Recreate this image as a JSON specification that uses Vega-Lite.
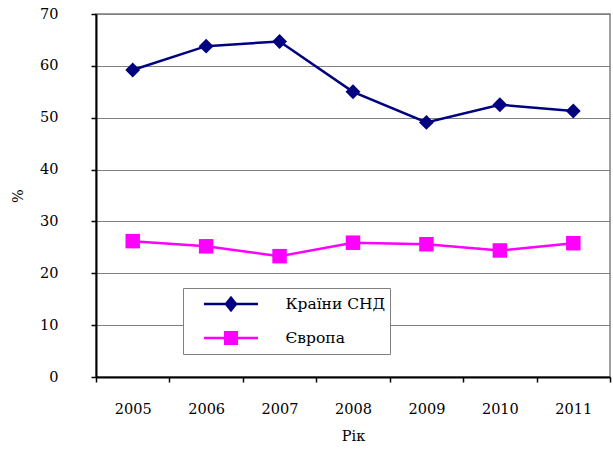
{
  "$schema": "https://vega.github.io/schema/vega-lite/v6.json",
  "autosize": "none",
  "padding": {"left": 96, "top": 14, "right": 3, "bottom": 75},
  "width": 514,
  "height": 363,
  "background": "white",
  "config": {
    "font": "DejaVu Serif",
    "view": {"stroke": "#808080", "strokeWidth": 1.5},
    "axis": {"labelFontSize": 14.5, "titleFontSize": 14.5, "titleFontWeight": "normal", "labelColor": "black", "titleColor": "black", "domainColor": "black", "tickColor": "black", "domainWidth": 2, "tickWidth": 1.5, "tickSize": 5}
  },
  "data": {"values": [
    {"year": "2005", "series": "Країни СНД", "value": 59.2},
    {"year": "2006", "series": "Країни СНД", "value": 63.8},
    {"year": "2007", "series": "Країни СНД", "value": 64.7},
    {"year": "2008", "series": "Країни СНД", "value": 55.0},
    {"year": "2009", "series": "Країни СНД", "value": 49.1},
    {"year": "2010", "series": "Країни СНД", "value": 52.5},
    {"year": "2011", "series": "Країни СНД", "value": 51.3},
    {"year": "2005", "series": "Європа", "value": 26.2},
    {"year": "2006", "series": "Європа", "value": 25.2},
    {"year": "2007", "series": "Європа", "value": 23.3},
    {"year": "2008", "series": "Європа", "value": 25.9},
    {"year": "2009", "series": "Європа", "value": 25.6},
    {"year": "2010", "series": "Європа", "value": 24.4},
    {"year": "2011", "series": "Європа", "value": 25.8}
  ]},
  "encoding": {
    "x": {"field": "year", "type": "ordinal", "scale": {"type": "band", "paddingInner": 0, "paddingOuter": 0},
      "axis": {"title": "Рік", "labelAngle": 0, "tickBand": "extent", "labelPadding": 20, "titlePadding": 14, "grid": false, "labelFont": "DejaVu Serif", "titleFont": "DejaVu Serif"}},
    "y": {"field": "value", "type": "quantitative", "scale": {"domain": [0, 70], "nice": false},
      "axis": {"title": "%", "values": [0, 10, 20, 30, 40, 50, 60, 70], "labelPadding": 33, "titlePadding": 14, "grid": true, "gridColor": "#808080", "gridWidth": 1.2, "gridOpacity": 1, "labelFont": "DejaVu Serif", "titleFont": "DejaVu Serif"}}
  },
  "layer": [
    {
      "mark": {"type": "line", "strokeWidth": 2.5},
      "encoding": {
        "color": {"field": "series", "type": "nominal",
          "scale": {"domain": ["Країни СНД", "Європа"], "range": ["#000080", "#FF00FF"]},
          "legend": {
            "title": null, "orient": "none", "legendX": 87, "legendY": 274,
            "fillColor": "white", "strokeColor": "#808080", "padding": 4.5,
            "symbolSize": 400, "symbolStrokeWidth": 2.5, "labelOffset": 43,
            "rowPadding": 11, "labelFontSize": 15.5, "labelColor": "black", "labelFont": "DejaVu Serif",
            "symbolOffset": 32,
            "encode": {
              "symbols": {"update": {
                "shape": {"signal": "datum.value == 'Країни СНД' ? 'M-2.7,0H2.7M0,-0.62L0.5,0L0,0.62L-0.5,0Z' : 'M-2.7,0H2.7M-0.58,-0.58H0.58V0.58H-0.58Z'"},
                "fill": {"signal": "datum.value == 'Країни СНД' ? '#000080' : '#FF00FF'"},
                "stroke": {"signal": "datum.value == 'Країни СНД' ? '#000080' : '#FF00FF'"},
                "strokeWidth": {"value": 2.5},
                "opacity": {"value": 1}
              }}
            }
          }}
      }
    },
    {
      "transform": [{"filter": "datum.series == 'Країни СНД'"}],
      "mark": {"type": "point", "filled": true, "opacity": 1, "shape": "diamond", "size": 220, "color": "#000080"}
    },
    {
      "transform": [{"filter": "datum.series == 'Європа'"}],
      "mark": {"type": "point", "filled": true, "opacity": 1, "shape": "square", "size": 210, "color": "#FF00FF"}
    }
  ]
}
